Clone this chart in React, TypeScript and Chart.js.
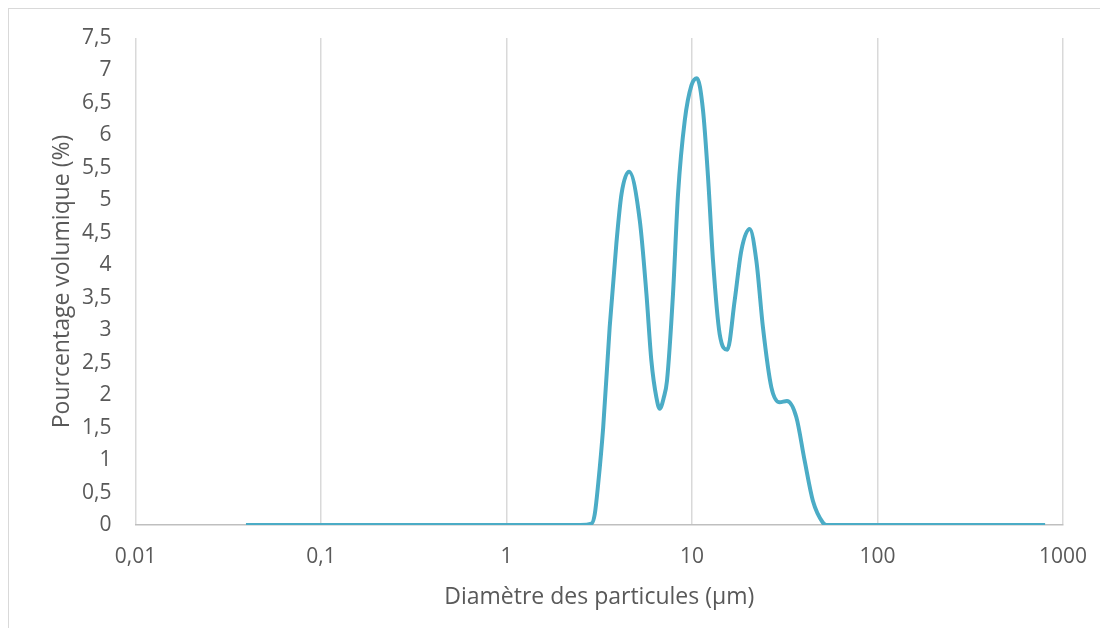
import React, { useEffect, useRef } from "react";
import { Chart, registerables } from "chart.js";

Chart.register(...registerables);

// Particle diameter (µm) and volume percentage (%)
const diameters = [
  0.0394, 0.1, 1, 2.5, 2.87, 2.99, 3.12, 3.32, 3.6, 3.91, 4.17, 4.58, 5.23, 5.68,
  6.04, 6.43, 6.7, 7.04, 7.33, 7.9, 8.41, 9.14, 9.93, 10.64, 11.46, 12.2, 12.98,
  14.1, 15.51, 16.99, 18.46, 20.46, 22.23, 24.13, 26.78, 29.69, 32.51, 36.52,
  40.48, 44.87, 50.8, 53.0, 100, 801,
];
const volumePct = [
  0, 0, 0, 0, 0.02, 0.165, 0.63, 1.5, 3.05, 4.33, 5.1, 5.44, 4.69, 3.56,
  2.53, 1.96, 1.79, 1.96, 2.22, 3.56, 5.1, 6.23, 6.77, 6.88, 6.39, 5.36, 4.07,
  2.94, 2.7, 3.46, 4.23, 4.56, 4.07, 3.04, 2.12, 1.89, 1.91, 1.66,
  0.99, 0.37, 0.035, 0, 0, 0,
];
const xTickValues = [0.01, 0.1, 1, 10, 100, 1000];
const xTickLabels = ["0,01", "0,1", "1", "10", "100", "1000"];
const yMin = 0;
const yMax = 7.5;
const yStep = 0.5;

const FONT = "'Open Sans', sans-serif";
const TEXT = "#595959";

export default function App() {
  const ref = useRef<HTMLCanvasElement>(null);
  useEffect(() => {
    const chart = new Chart(ref.current!, {
      type: "scatter",
      data: {
        datasets: [
          {
            data: diameters.map((x, i) => ({ x, y: volumePct[i] })),
            showLine: true,
            borderColor: "#4BACC6",
            backgroundColor: "#4BACC6",
            borderWidth: 4,
            pointRadius: 0,
            cubicInterpolationMode: "monotone",
            fill: false,
          },
        ],
      },
      options: {
        animation: false,
        responsive: false,
        maintainAspectRatio: false,
        layout: { padding: { left: 36, top: 29, right: 37, bottom: 13 } },
        plugins: { legend: { display: false }, tooltip: { enabled: false } },
        scales: {
          x: {
            type: "logarithmic",
            min: 0.01,
            max: 1000,
            afterBuildTicks: (s: any) => {
              s.ticks = xTickValues.map((v) => ({ value: v }));
            },
            ticks: {
              callback: (v: any) => {
                const i = xTickValues.findIndex((t) => Math.abs(t - Number(v)) < t * 1e-6);
                return i >= 0 ? xTickLabels[i] : "";
              },
              color: TEXT,
              font: { family: FONT, size: 21 },
              padding: 0,
              maxRotation: 0,
              autoSkip: false,
            },
            grid: {
              color: "#d9d9d9",
              lineWidth: 1.5,
              drawTicks: true,
              tickLength: 19,
              tickColor: "rgba(0,0,0,0)",
            },
            border: { color: "#bfbfbf", width: 1.5 },
            title: {
              display: true,
              text: "Diamètre des particules (µm)",
              color: TEXT,
              font: { family: FONT, size: 23 },
              padding: { top: 4, bottom: 4 },
            },
            afterFit: (s: any) => {
              s.height = 90;
            },
          },
          y: {
            min: yMin,
            max: yMax,
            ticks: {
              stepSize: yStep,
              callback: (v: any) => String(v).replace(".", ","),
              color: TEXT,
              font: { family: FONT, size: 21 },
              padding: 0,
            },
            grid: { display: false, drawTicks: true, tickLength: 24 },
            border: { display: false },
            title: {
              display: true,
              text: "Pourcentage volumique (%)",
              color: TEXT,
              font: { family: FONT, size: 23 },
              padding: { top: 4, bottom: 4 },
            },
            afterFit: (s: any) => {
              s.width = 90.5;
            },
          },
        },
      },
    } as any);
    return () => chart.destroy();
  }, []);
  return (
    <div
      style={{
        borderLeft: "1px solid #d9d9d9",
        borderTop: "1px solid #d9d9d9",
        width: 1099,
        height: 619,
        background: "#fff",
      }}
    >
      <canvas ref={ref} width={1091} height={619} style={{ display: "block" }} />
    </div>
  );
}
